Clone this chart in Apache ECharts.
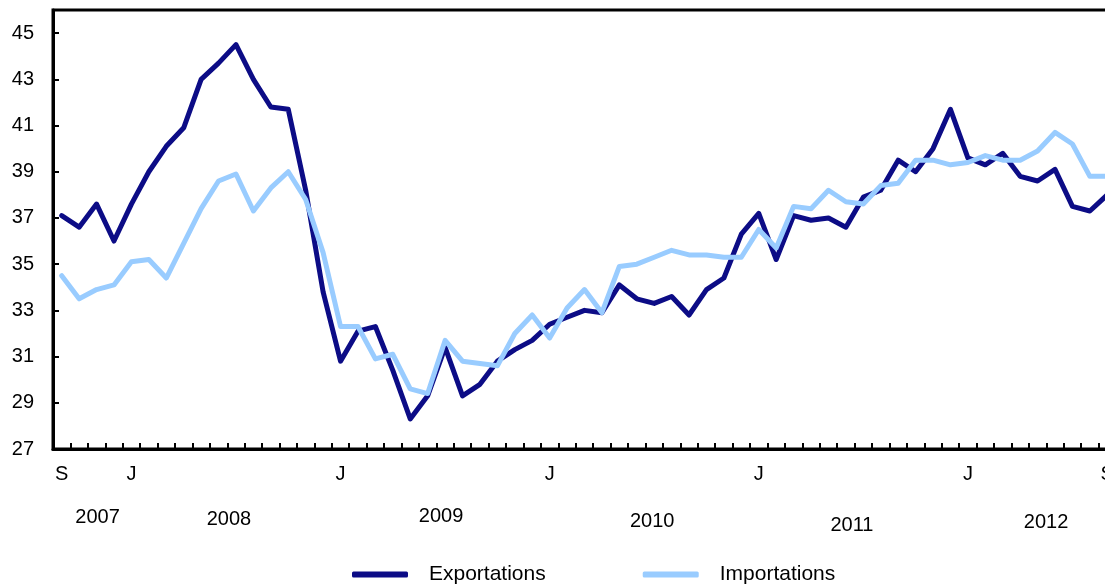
<!DOCTYPE html>
<html>
<head>
<meta charset="utf-8">
<script src="https://cdn.jsdelivr.net/npm/echarts@6/dist/echarts.min.js"></script>
<style>
html,body{margin:0;padding:0;background:#fff;}
#chart{width:1105px;height:585px;}
</style>
</head>
<body>
<div id="chart"></div>
<script>
// Months: Sep 2007 .. Sep 2012
const months = [];
const monthLetters = ['J','F','M','A','M','J','J','A','S','O','N','D'];
for (let y = 2007, m = 8; y < 2012 || (y === 2012 && m <= 8); ) {
  months.push(y + '-' + String(m + 1).padStart(2, '0'));
  m++; if (m === 12) { m = 0; y++; }
}
const monthLabelIdx = [0, 4, 16, 28, 40, 52, 60];
const yearLabels = {2: '2007', 10: '2008', 22: '2009', 34: '2010', 45: '2011', 56: '2012'};

const exportations = [
  37.1, 36.6, 37.6, 36.0, 37.6, 39.0, 40.1, 40.9, 43.0, 43.7, 44.5, 43.0,
  41.8, 41.7, 38.2, 33.8, 30.8, 32.1, 32.3, 30.4, 28.3, 29.3, 31.4, 29.3,
  29.8, 30.8, 31.3, 31.7, 32.4, 32.7, 33.0, 32.9, 34.1, 33.5, 33.3, 33.6,
  32.8, 33.9, 34.4, 36.3, 37.2, 35.2, 37.1, 36.9, 37.0, 36.6, 37.9, 38.2,
  39.5, 39.0, 40.0, 41.7, 39.6, 39.3, 39.8, 38.8, 38.6, 39.1, 37.5, 37.3,
  38.0
];
const importations = [
  34.5, 33.5, 33.9, 34.1, 35.1, 35.2, 34.4, 35.9, 37.4, 38.6, 38.9, 37.3,
  38.3, 39.0, 37.8, 35.5, 32.3, 32.3, 30.9, 31.1, 29.6, 29.4, 31.7, 30.8,
  30.7, 30.6, 32.0, 32.8, 31.8, 33.1, 33.9, 32.9, 34.9, 35.0, 35.3, 35.6,
  35.4, 35.4, 35.3, 35.3, 36.5, 35.7, 37.5, 37.4, 38.2, 37.7, 37.6, 38.4,
  38.5, 39.5, 39.5, 39.3, 39.4, 39.7, 39.5, 39.5, 39.9, 40.7, 40.2, 38.8,
  38.8
];

const FONT = '"Liberation Sans", Arial, Helvetica, sans-serif';
const DARK = '#0c0c86';
const LIGHT = '#99ccff';
const chart = echarts.init(document.getElementById('chart'), null, {renderer: 'canvas'});
chart.setOption({
  animation: false,
  backgroundColor: '#fff',
  grid: {
    left: 53, top: 10, width: 1063, height: 439,
    containLabel: false, outerBoundsMode: 'none',
    show: true, borderColor: '#000', borderWidth: 3, backgroundColor: 'transparent'
  },
  legend: {
    left: 352, top: 564, itemGap: 97, itemWidth: 56, itemHeight: 6,
    icon: 'roundRect', padding: 0,
    textStyle: {fontFamily: FONT, fontSize: 21, color: '#000', padding: [0, 0, 0, 16]},
    data: ['Exportations', 'Importations']
  },
  xAxis: [{
    type: 'category', data: months, boundaryGap: true, position: 'bottom',
    axisLine: {show: true, lineStyle: {color: '#000', width: 3}},
    axisTick: {show: true, inside: true, length: 6, interval: 0, lineStyle: {color: '#000', width: 2}},
    axisLabel: {
      interval: (i) => monthLabelIdx.indexOf(i) >= 0,
      formatter: (v) => monthLetters[parseInt(v.slice(5), 10) - 1],
      margin: 15, fontFamily: FONT, fontSize: 20, color: '#000'
    },
    splitLine: {show: false}
  }, {
    type: 'category', data: months, boundaryGap: true, position: 'bottom',
    axisLine: {show: false}, axisTick: {show: false}, splitLine: {show: false},
    axisLabel: {
      interval: (i) => yearLabels[i] !== undefined,
      formatter: (v, i) => '{y' + yearLabels[i] + '|' + yearLabels[i] + '}',
      margin: 57, fontFamily: FONT, fontSize: 20, color: '#000',
      rich: {
        y2007: {fontFamily: FONT, fontSize: 20, padding: [1, 0, 0, 2]},
        y2008: {fontFamily: FONT, fontSize: 20, padding: [3, 14, 0, 0]},
        y2009: {fontFamily: FONT, fontSize: 20, padding: [0, 8, 0, 0]},
        y2010: {fontFamily: FONT, fontSize: 20, padding: [5, 4, 0, 0]},
        y2011: {fontFamily: FONT, fontSize: 20, padding: [9, 0, 0, 12]},
        y2012: {fontFamily: FONT, fontSize: 20, padding: [6, 0, 0, 17]}
      }
    }
  }],
  yAxis: {
    type: 'value', min: 27, max: 46, interval: 2,
    axisLine: {show: true, lineStyle: {color: '#000', width: 3}},
    axisTick: {show: true, inside: true, length: 6, lineStyle: {color: '#000', width: 2}},
    axisLabel: {margin: 19, fontFamily: FONT, fontSize: 20, color: '#000', showMaxLabel: false},
    splitLine: {show: false}
  },
  series: [{
    name: 'Exportations', type: 'line', data: exportations, xAxisIndex: 0,
    showSymbol: false, symbol: 'none',
    lineStyle: {color: DARK, width: 5, join: 'round', cap: 'round'}, itemStyle: {color: DARK}
  }, {
    name: 'Importations', type: 'line', data: importations, xAxisIndex: 0,
    showSymbol: false, symbol: 'none',
    lineStyle: {color: LIGHT, width: 5, join: 'round', cap: 'round'}, itemStyle: {color: LIGHT}
  }]
});
</script>
</body>
</html>
